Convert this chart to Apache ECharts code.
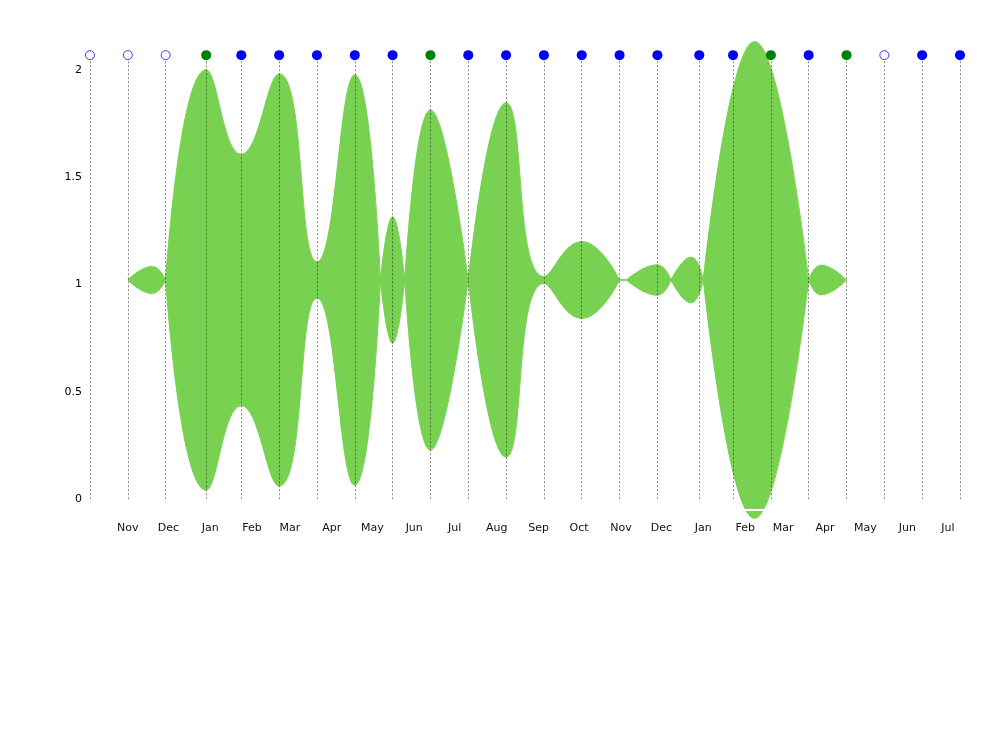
<!DOCTYPE html>
<html><head><meta charset="utf-8">
<script src="https://cdn.jsdelivr.net/npm/echarts@6/dist/echarts.min.js"></script>
<style>html,body{margin:0;padding:0;background:#fff}#c{width:1000px;height:744px}</style>
</head><body><div id="c"></div>
<script>
// ---- data ----
const CENTER = 1.02095;   // centre line of the band
const DOT_VALUE = 2.068;  // height of the marker row
const LINE_TOP = 2.04;    // top of the dotted guide lines
const markDates = ['2016-10-04','2016-11-01','2016-11-29','2016-12-29','2017-01-24','2017-02-21',
  '2017-03-21','2017-04-18','2017-05-16','2017-06-13','2017-07-11','2017-08-08','2017-09-05',
  '2017-10-03','2017-10-31','2017-11-28','2017-12-29','2018-01-23','2018-02-20','2018-03-20',
  '2018-04-17','2018-05-15','2018-06-12','2018-07-10'];
const markKinds = ['hollow','hollow','hollow','green','blue','blue','blue','blue','blue','green',
  'blue','blue','blue','blue','blue','blue','blue','blue','green','blue','green','hollow','blue','blue'];
// band half-widths; null = break between segments
const shapeDates = [
  '2016-11-01','2016-11-19','2016-11-29','2016-11-29',
  '2016-11-29','2016-12-29','2017-01-24','2017-02-21','2017-03-21','2017-04-18','2017-05-07','2017-05-07',
  '2017-05-07','2017-05-16','2017-05-25','2017-05-25',
  '2017-05-25','2017-06-13','2017-07-11','2017-07-11',
  '2017-07-11','2017-08-08','2017-09-05','2017-10-03','2017-10-31','2017-10-31',
  '2017-10-31','2017-11-05','2017-11-05',
  '2017-11-05','2017-11-28','2017-12-08','2017-12-08',
  '2017-12-08','2017-12-23','2018-01-01','2018-01-01',
  '2018-01-01','2018-02-08','2018-03-20','2018-03-20',
  '2018-03-20','2018-03-29','2018-04-17'];
const shapeHalfWidths = [
  0, 0.063, 0, null,
  0, 0.979, 0.585, 0.96, 0.084, 0.956, 0, null,
  0, 0.295, 0, null,
  0, 0.792, 0, null,
  0, 0.825, 0.016, 0.179, 0, null,
  0, 0, null,
  0, 0.071, 0, null,
  0, 0.107, 0, null,
  0, 1.11, 0, null,
  0, 0.069, 0];

// ---- chart ----
const ts = s => { const p = s.split('-').map(Number); return new Date(p[0], p[1]-1, p[2]).getTime(); };
const GREEN = '#79d151';
const upper = shapeDates.map((d, i) => [ts(d), shapeHalfWidths[i] == null ? '-' : CENTER + shapeHalfWidths[i]]);
const lower = shapeDates.map((d, i) => [ts(d), shapeHalfWidths[i] == null ? '-' : CENTER - shapeHalfWidths[i]]);
const middle = shapeDates.map((d, i) => [ts(d), shapeHalfWidths[i] == null ? '-' : CENTER]);
const dotStyle = {
  blue: {color: '#0000ff', opacity: 1},
  green: {color: '#008000', opacity: 1},
  hollow: {color: '#ffffff', borderColor: '#3a3aff', borderWidth: 1, opacity: 1}
};
const dots = markDates.map((d, i) => ({
  value: [ts(d), DOT_VALUE],
  symbolSize: markKinds[i] === 'hollow' ? 9 : 10,
  itemStyle: dotStyle[markKinds[i]]
}));
const DAY = 86400000;
const bandSeries = data => ({
  type: 'line', data, smooth: 0.5, symbol: 'none', clip: false, silent: true, z: 2,
  lineStyle: {color: GREEN, width: 1},
  areaStyle: {color: GREEN, opacity: 1, origin: CENTER}
});
const chart = echarts.init(document.getElementById('c'), null, {renderer: 'canvas'});
chart.setOption({
  animation: false,
  backgroundColor: '#fff',
  textStyle: {fontFamily: 'DejaVu Sans'},
  grid: {left: 90, right: 40, top: 59, bottom: 234, containLabel: false},
  xAxis: {
    type: 'time', min: ts(markDates[0]), max: ts(markDates[markDates.length - 1]),
    splitNumber: 20, minInterval: 28 * DAY, maxInterval: 31 * DAY,
    z: 10,
    axisLine: {show: true, onZero: false, lineStyle: {color: '#ffffff', width: 2}},
    axisTick: {show: false}, splitLine: {show: false},
    axisLabel: {formatter: '{MMM}', fontSize: 11, color: '#111', margin: 13, fontFamily: 'DejaVu Sans'}
  },
  yAxis: {
    type: 'value', min: -0.05, max: 2.05, splitNumber: 4,
    axisLine: {show: false}, axisTick: {show: false}, splitLine: {show: false},
    axisLabel: {fontSize: 11, color: '#000', margin: 8, fontFamily: 'DejaVu Sans',
      showMinLabel: false, showMaxLabel: false,
      formatter: v => Math.abs(v * 2 - Math.round(v * 2)) < 1e-6 ? String(v) : ''}
  },
  series: [
    bandSeries(upper),
    bandSeries(lower),
    {type: 'line', data: middle, symbol: 'none', clip: false, silent: true, z: 2,
     lineStyle: {color: GREEN, width: 1}},
    {
      type: 'scatter', data: dots, clip: false, silent: true, z: 4,
      markLine: {
        silent: true, symbol: ['none', 'none'], label: {show: false}, animation: false,
        lineStyle: {color: 'rgba(0,0,0,0.45)', type: [2, 2], width: 1},
        emphasis: {disabled: true},
        data: markDates.map(d => [{coord: [ts(d), 0]}, {coord: [ts(d), LINE_TOP]}])
      }
    }
  ]
});
</script></body></html>
